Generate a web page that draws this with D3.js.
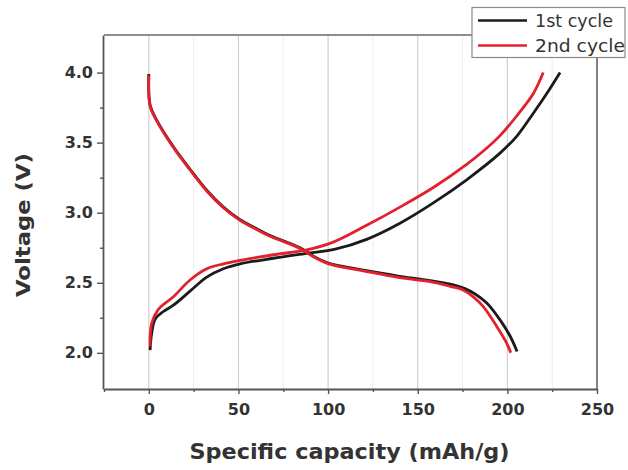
<!DOCTYPE html>
<html>
<head>
<meta charset="utf-8">
<script src="https://cdn.jsdelivr.net/npm/d3@7"></script>
<style>
  body { margin: 0; background: #fff; }
  svg { display: block; }
</style>
</head>
<body>
<svg id="chart" width="628" height="470"></svg>
<script>
// tick values
const capTicks = [0, 50, 100, 150, 200, 250];
const capMinor = [-25, 25, 75, 125, 175, 225];
const voltTicks = [2.0, 2.5, 3.0, 3.5, 4.0];
const voltMinor = [2.25, 2.75, 3.25, 3.75];

// [capacity mAh/g, voltage V]
const discharge1 = [[0, 3.99], [0.7, 3.77], [4.4, 3.66], [13.7, 3.47], [23, 3.31], [32.3, 3.16],
  [41.6, 3.04], [50.9, 2.95], [60.2, 2.885], [67, 2.84], [75, 2.80], [84.3, 2.75], [91.8, 2.69],
  [99.2, 2.645], [106.6, 2.62], [119.7, 2.59], [138.3, 2.55], [156.9, 2.515], [169.9, 2.485],
  [176, 2.46], [182, 2.42], [188.5, 2.355], [195.9, 2.235], [201.5, 2.12], [205.4, 2.01]];
const discharge2 = [[0, 3.98], [0.7, 3.76], [4.4, 3.655], [13.7, 3.465], [23, 3.305], [32.3, 3.155],
  [41.6, 3.035], [50.9, 2.945], [60.2, 2.88], [67, 2.835], [75, 2.795], [84.3, 2.745], [91.8, 2.685],
  [99.2, 2.64], [106.6, 2.615], [119.7, 2.585], [138.3, 2.54], [156.9, 2.508], [168, 2.475],
  [175, 2.45], [181, 2.40], [186.6, 2.33], [194, 2.19], [199.6, 2.07], [201.9, 2.0]];
const charge1 = [[0.7, 2.02], [1.6, 2.14], [3.5, 2.24], [8.1, 2.295], [13.7, 2.34], [23, 2.44],
  [32.3, 2.54], [41.6, 2.60], [50.9, 2.635], [69.5, 2.675], [88.1, 2.71], [104, 2.74],
  [121.5, 2.81], [140.1, 2.925], [158.7, 3.07], [177.3, 3.235], [195.9, 3.425], [205.2, 3.545],
  [214.5, 3.71], [222, 3.85], [229.4, 4.0]];
const charge2 = [[0.7, 2.045], [1.6, 2.21], [5.3, 2.31], [13.7, 2.40], [23, 2.52], [32.3, 2.60],
  [41.6, 2.635], [50.9, 2.66], [69.5, 2.70], [88.1, 2.735], [102.9, 2.79], [121.5, 2.91],
  [140.1, 3.04], [158.7, 3.18], [177.3, 3.345], [186.6, 3.44], [195.9, 3.55], [205.2, 3.69],
  [214.5, 3.85], [220, 4.0]];

const series = [
  {name: "1st cycle", color: "#1b1b1b", data: [discharge1, charge1]},
  {name: "2nd cycle", color: "#e3202b", data: [discharge2, charge2]}
];

const svg = d3.select("#chart");
const pL = 104, pR = 597, pT = 35, pB = 389;

const x = d3.scaleLinear().domain([-25, 250]).range([pL, pR]);
const y = d3.scaleLinear().domain([1.742, 4.268]).range([pB, pT]);

// grid
svg.append("g").selectAll("line").data(capMinor.filter(d => d > -25)).enter().append("line")
    .attr("x1", d => x(d)).attr("x2", d => x(d)).attr("y1", pT).attr("y2", pB)
    .attr("stroke", "#eeeeee").attr("stroke-width", 1);
svg.append("g").selectAll("line").data(capTicks).enter().append("line")
    .attr("x1", d => x(d)).attr("x2", d => x(d)).attr("y1", pT).attr("y2", pB)
    .attr("stroke", "#cfcfcf").attr("stroke-width", 1.2);

// frame top / right
svg.append("path")
    .attr("d", `M${pL},${pT}H${pR}V${pB}`)
    .attr("fill", "none").attr("stroke", "#6a6a6a").attr("stroke-width", 1.6);

// axes
const fmtV = d3.format(".1f");
svg.append("g").attr("transform", `translate(0,${pB})`)
    .call(d3.axisBottom(x).tickValues(capTicks).tickSize(5).tickSizeOuter(0).tickPadding(10));
svg.append("g").attr("transform", `translate(0,${pB})`)
    .call(d3.axisBottom(x).tickValues(capMinor).tickSize(3).tickFormat(""))
    .call(g => g.select(".domain").remove());
svg.append("g").attr("transform", `translate(${pL - 1},0)`)
    .call(d3.axisLeft(y).tickValues(voltTicks).tickFormat(fmtV).tickSize(6).tickSizeOuter(0).tickPadding(4));
svg.append("g").attr("transform", `translate(${pL - 1},0)`)
    .call(d3.axisLeft(y).tickValues(voltMinor).tickSize(3).tickFormat(""))
    .call(g => g.select(".domain").remove());

svg.selectAll(".domain").attr("stroke", "#555").attr("stroke-width", 1.8);
svg.selectAll(".tick line").attr("stroke", "#555").attr("stroke-width", 1.4);
svg.selectAll(".tick text")
    .style("font-family", "'DejaVu Sans', sans-serif")
    .style("font-weight", "bold")
    .style("font-size", "16px")
    .attr("fill", "#333");

// axis titles
svg.append("text")
    .attr("x", (189 + 510) / 2).attr("y", 459)
    .attr("text-anchor", "middle")
    .attr("textLength", 320).attr("lengthAdjust", "spacingAndGlyphs")
    .style("font-family", "'DejaVu Sans', sans-serif").style("font-weight", "bold").style("font-size", "21px")
    .attr("fill", "#333")
    .text("Specific capacity (mAh/g)");
svg.append("text")
    .attr("transform", "translate(30,225) rotate(-90)")
    .attr("text-anchor", "middle")
    .attr("textLength", 144).attr("lengthAdjust", "spacingAndGlyphs")
    .style("font-family", "'DejaVu Sans', sans-serif").style("font-weight", "bold").style("font-size", "20px")
    .attr("fill", "#333")
    .text("Voltage (V)");

// curves
const line = d3.line().x(d => x(d[0])).y(d => y(d[1])).curve(d3.curveCatmullRom.alpha(0.5));
series.forEach(s => {
  svg.append("g").selectAll("path").data(s.data).enter().append("path")
      .attr("d", line)
      .attr("fill", "none")
      .attr("stroke", s.color)
      .attr("stroke-width", 2.8)
      .attr("stroke-linejoin", "round");
});

// legend
const lg = svg.append("g");
lg.append("rect").attr("x", 472).attr("y", 7.5).attr("width", 153).attr("height", 50)
    .attr("fill", "#fff").attr("stroke", "#8a8a8a").attr("stroke-width", 1.2);
series.forEach((s, i) => {
  const ly = 20.5 + i * 25;
  lg.append("line").attr("x1", 478).attr("x2", 527).attr("y1", ly).attr("y2", ly)
      .attr("stroke", s.color).attr("stroke-width", 2.6);
  lg.append("text").attr("x", 535).attr("y", ly + 6.5)
      .attr("textLength", i === 0 ? 78 : 90).attr("lengthAdjust", "spacingAndGlyphs")
      .style("font-family", "'DejaVu Sans', sans-serif").style("font-size", "17px")
      .attr("fill", "#333")
      .text(s.name);
});
</script>
</body>
</html>
